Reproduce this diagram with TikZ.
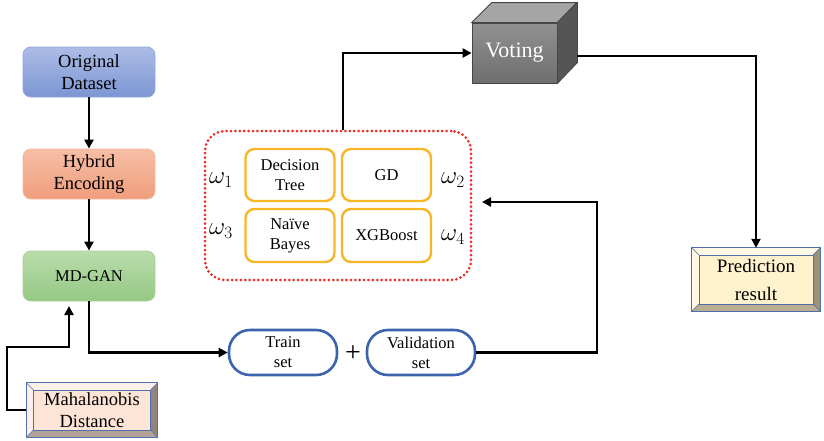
\documentclass[tikz,border=0pt]{standalone}
\usepackage{fontspec}
\setmainfont{Liberation Serif}
\usetikzlibrary{arrows.meta,backgrounds,calc}
\definecolor{odA}{RGB}{172,188,229}
\definecolor{odB}{RGB}{124,150,211}
\definecolor{odL}{RGB}{143,166,220}
\definecolor{heA}{RGB}{246,190,166}
\definecolor{heB}{RGB}{240,158,124}
\definecolor{heL}{RGB}{244,183,158}
\definecolor{mdA}{RGB}{186,220,172}
\definecolor{mdB}{RGB}{149,200,131}
\definecolor{mdL}{RGB}{169,209,151}
\definecolor{clfor}{RGB}{247,182,38}
\definecolor{pillb}{RGB}{60,99,173}
\definecolor{dotred}{RGB}{235,45,40}
\definecolor{vfA}{RGB}{145,145,145}
\definecolor{vfB}{RGB}{110,110,110}
\definecolor{vtop}{RGB}{165,165,165}
\definecolor{vright}{RGB}{85,85,85}
\definecolor{vline}{RGB}{70,70,70}
\definecolor{mhFace}{RGB}{252,228,214}
\definecolor{mhLight}{RGB}{253,240,232}
\definecolor{mhDark}{RGB}{178,162,152}
\definecolor{mhRight}{RGB}{145,133,126}
\definecolor{bvLine}{RGB}{80,110,172}
\definecolor{prFace}{RGB}{255,242,204}
\definecolor{prLight}{RGB}{255,248,227}
\definecolor{prDark}{RGB}{186,175,142}
\definecolor{prRight}{RGB}{155,146,120}
\newcommand{\bevelframe}[5]{%
\begin{pgfonlayer}{background}
\fill[#2] (#1.north west) rectangle (#1.south east);
\fill[#3] (#1.north west) -- (#1.north east) -- ([shift={(-7,7)}]#1.north east) -- ([shift={(7,7)}]#1.north west) -- cycle;
\fill[#3] (#1.north west) -- ([shift={(7,7)}]#1.north west) -- ([shift={(7,-7)}]#1.south west) -- (#1.south west) -- cycle;
\fill[#4] (#1.south west) -- (#1.south east) -- ([shift={(-7,-7)}]#1.south east) -- ([shift={(7,-7)}]#1.south west) -- cycle;
\fill[#5] (#1.north east) -- (#1.south east) -- ([shift={(-7,-7)}]#1.south east) -- ([shift={(-7,7)}]#1.north east) -- cycle;
\draw[bvLine, line width=0.6pt] (#1.north west) -- ([shift={(7,7)}]#1.north west)
  (#1.north east) -- ([shift={(-7,7)}]#1.north east)
  (#1.south west) -- ([shift={(7,-7)}]#1.south west)
  (#1.south east) -- ([shift={(-7,-7)}]#1.south east);
\draw[bvLine, line width=0.6pt] ([shift={(7,7)}]#1.north west) rectangle ([shift={(-7,-7)}]#1.south east);
\draw[bvLine, line width=1.1pt] (#1.north west) rectangle (#1.south east);
\end{pgfonlayer}}
\begin{document}
\begin{tikzpicture}[x=1pt,y=-1pt,
  arr/.style={line width=2.4pt,-{Triangle[length=9pt,width=9pt]}},
  flow/.style={rounded corners=8pt,minimum width=132pt,minimum height=50pt,align=center,
    font=\fontsize{18.5}{22}\selectfont,line width=0.8pt,inner sep=0pt},
  clf/.style={draw=clfor,line width=2.4pt,rounded corners=9pt,minimum width=89pt,
    minimum height=52pt,align=center,font=\fontsize{16.5}{20}\selectfont,inner sep=0pt},
  pill/.style={draw=pillb,line width=2.6pt,rounded corners=21pt,minimum width=108pt,
    minimum height=45pt,align=center,font=\fontsize{16.5}{20}\selectfont,inner sep=0pt,fill=white},
  wlab/.style={font=\fontsize{24}{28}\selectfont,inner sep=0pt},
  bev/.style={inner sep=0pt,align=center}
]
\useasboundingbox (0,0) rectangle (824,440);

% left column
\node[flow,top color=odA,bottom color=odB,draw=odL] (orig) at (89,72) {Original\\Dataset};
\node[flow,top color=heA,bottom color=heB,draw=heL] (hyb) at (89,174) {Hybrid\\Encoding};
\node[flow,top color=mdA,bottom color=mdB,draw=mdL,font=\fontsize{16.5}{20}\selectfont] (md) at (89,276) {MD-GAN};
\node[bev,minimum width=131pt,minimum height=54pt,font=\fontsize{18.5}{22}\selectfont] (maha) at (92,410) {Mahalanobis\\Distance};
\bevelframe{maha}{mhFace}{mhLight}{mhDark}{mhRight}

% ensemble
\node[draw=dotred,line width=3pt,dash pattern=on 0pt off 4.4pt,line cap=round,rounded corners=20pt,
  minimum width=266pt,minimum height=149pt,inner sep=0pt] (ens) at (338,205.5) {};
\node[clf] (dt) at (290,175) {Decision\\Tree};
\node[clf] (gd) at (386.5,175) {GD};
\node[clf,minimum height=53pt] (nb) at (290,235.5) {Na\"ive\\Bayes};
\node[clf,minimum height=53pt] (xgb) at (386.5,235.5) {XGBoost};
\node[wlab] (w1) at (221,180) {$\omega_1$};
\node[wlab] (w2) at (453,180) {$\omega_2$};
\node[wlab] (w3) at (221,231) {$\omega_3$};
\node[wlab] (w4) at (453,237) {$\omega_4$};

% train / validation
\node[pill] (train) at (283,352.5) {Train\\set};
\node[pill] (valid) at (421,352.5) {Validation\\set};
\node[font=\fontsize{28}{30}\selectfont,inner sep=0pt] (plus) at (353,354) {+};

% voting cube
\node[top color=vfA,bottom color=vfB,draw=vline,line width=0.8pt,minimum width=85pt,minimum height=60pt,
  inner sep=0pt,text=white,font=\fontsize{22}{24}\selectfont] (vote) at (514.5,53) {Voting};
\filldraw[fill=vtop,draw=vline,line width=0.8pt] (vote.north west) -- ++(20,-20) -- ++(85,0) -- (vote.north east) -- cycle;
\filldraw[fill=vright,draw=vline,line width=0.8pt] (vote.north east) -- ++(20,-20) -- ++(0,60) -- (vote.south east) -- cycle;

% prediction
\node[bev,minimum width=128pt,minimum height=63pt,font=\fontsize{19}{28}\selectfont] (pred) at (756,279.5) {Prediction\\result};
\bevelframe{pred}{prFace}{prLight}{prDark}{prRight}

% connectors
\draw[arr] (orig) -- (hyb);
\draw[arr] (hyb) -- (md);
\draw[arr] (md.south) |- (train.west);
\coordinate (m1) at (7,347);
\coordinate (m2) at (69,306);
\draw[arr] (maha.west) -| (m1) -| (m2);
\coordinate (vturn) at (597,202);
\coordinate (ensin) at (482,202);
\draw[arr] (valid.east) -| (vturn) -- (ensin);
\coordinate (ensout) at (343,130);
\draw[arr] (ensout) |- (vote.west);
\coordinate (voteR) at (577,56);
\draw[arr] (voteR) -| (pred.north);
\end{tikzpicture}
\end{document}
